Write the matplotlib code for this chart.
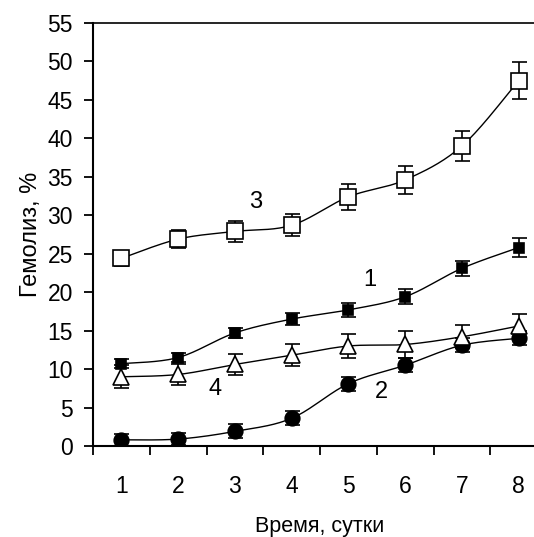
import numpy as np
import matplotlib
matplotlib.use("Agg")
import matplotlib.pyplot as plt

plt.rcParams['font.family'] = ['Liberation Sans', 'DejaVu Sans']

days = [1, 2, 3, 4, 5, 6, 7, 8]

# series 1 - filled small squares
s1 = [10.7, 11.5, 14.7, 16.5, 17.7, 19.4, 23.1, 25.8]
e1 = [0.6, 0.6, 0.7, 0.8, 0.9, 1.0, 1.0, 1.2]
# series 2 - filled circles
s2 = [0.8, 0.9, 1.9, 3.6, 8.1, 10.5, 13.1, 14.0]
e2 = [0.8, 0.8, 0.9, 0.9, 0.9, 0.9, 0.9, 0.9]
# series 3 - open squares
s3 = [24.4, 26.9, 27.9, 28.7, 32.4, 34.6, 39.0, 47.5]
e3 = [1.0, 1.2, 1.4, 1.45, 1.65, 1.8, 2.0, 2.4]
# series 4 - open triangles
s4 = [9.0, 9.3, 10.6, 11.8, 13.0, 13.2, 14.2, 15.6]
e4 = [1.5, 1.4, 1.4, 1.4, 1.5, 1.7, 1.5, 1.6]

curve_labels = ["1", "2", "3", "4"]
label_pos = [(5.37, 21.6), (5.58, 7.0), (3.37, 31.7), (2.65, 7.4)]


def smooth(x, y, n=20):
    # catmull-rom style smoothing like excel's smoothed line
    x = np.asarray(x, float)
    y = np.asarray(y, float)
    px = np.concatenate([[x[0]], x, [x[-1]]])
    py = np.concatenate([[y[0]], y, [y[-1]]])
    xs, ys = [], []
    t = np.linspace(0, 1, n)
    for i in range(1, len(px) - 2):
        p0, p1, p2, p3 = (np.array([px[j], py[j]]) for j in range(i - 1, i + 3))
        c1 = p1 + (p2 - p0) / 6
        c2 = p2 - (p3 - p1) / 6
        b = ((1 - t) ** 3)[:, None] * p1 + (3 * (1 - t) ** 2 * t)[:, None] * c1 \
            + (3 * (1 - t) * t ** 2)[:, None] * c2 + (t ** 3)[:, None] * p2
        xs.extend(b[:, 0])
        ys.extend(b[:, 1])
    return xs, ys


fig = plt.figure(figsize=(5.34, 5.37), dpi=100)
ax = fig.add_axes([93 / 534, 91 / 537, (547 - 93) / 534, (514 - 91) / 537])

series = [
    (s1, e1, 's', 'black', 7),
    (s2, e2, 'o', 'black', 10.5),
    (s3, e3, 's', 'white', 11.5),
    (s4, e4, '^', 'white', 12),
]

for vals, errs, m, fc, ms in series:
    sx, sy = smooth(days, vals)
    ax.plot(sx, sy, color='black', lw=1.0, zorder=2)
    ax.errorbar(days, vals, yerr=errs, fmt='none', ecolor='black',
                elinewidth=1.2, capsize=5.4, capthick=1.2, zorder=3)
    ax.plot(days, vals, linestyle='none', marker=m, markersize=ms,
            markerfacecolor=fc, markeredgecolor='black', markeredgewidth=1.2,
            zorder=4)

for lab, (lx, ly) in zip(curve_labels, label_pos):
    ax.text(lx, ly, lab, fontsize=17, ha='center', va='center')

ax.set_xlim(0.5, 8.5)
ax.set_ylim(0, 55)
ax.set_yticks(np.arange(0, 56, 5))
ax.set_xticks(np.arange(0.5, 9, 1))
ax.set_xticklabels([])
ax.set_xticks(days, minor=True)
ax.set_xticklabels([str(d) for d in days], minor=True, fontsize=16.5)
ax.tick_params(axis='x', which='minor', length=0, pad=21)
ax.tick_params(axis='x', which='major', direction='out', length=6.5, width=1.3)
ax.tick_params(axis='y', direction='out', length=6.5, width=1.3, labelsize=16.5, pad=8)

ax.spines['right'].set_visible(False)
ax.spines['left'].set_linewidth(1.5)
ax.spines['bottom'].set_linewidth(1.5)
ax.spines['top'].set_linewidth(1.2)

ax.set_ylabel("Гемолиз, %", fontsize=17)
ax.yaxis.set_label_coords(-0.112, 0.5)
ax.set_xlabel("Время, сутки", fontsize=15.5, labelpad=13)

fig.savefig("out.png", dpi=100)
